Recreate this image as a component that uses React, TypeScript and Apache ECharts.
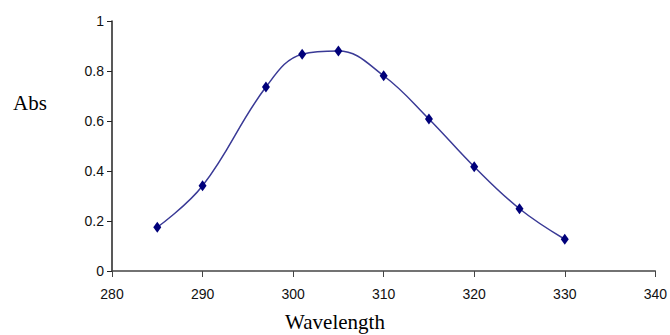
import React, { useEffect, useRef } from "react";
import * as echarts from "echarts";

const wavelengths = [285, 290, 297, 301, 305, 310, 315, 320, 325, 330];
const absorbance = [0.175, 0.341, 0.736, 0.867, 0.88, 0.781, 0.608, 0.417, 0.249, 0.127];
const xTitle = "Wavelength";
const yTitle = "Abs";

export default function App() {
  const ref = useRef<HTMLDivElement>(null);
  useEffect(() => {
    if (!ref.current) return;
    const chart = echarts.init(ref.current, undefined, { renderer: "svg" });
    const data = wavelengths.map((w, i) => [w, absorbance[i]]);
    chart.setOption({
      animation: false,
      backgroundColor: "#ffffff",
      grid: { left: 112, right: 14, top: 21, bottom: 64, containLabel: false },
      xAxis: {
        type: "value",
        min: 280,
        max: 340,
        interval: 10,
        splitLine: { show: false },
        axisLine: { show: true, onZero: false, lineStyle: { color: "#444", width: 1.5 } },
        axisTick: { show: true, length: 6, lineStyle: { color: "#444", width: 1 } },
        axisLabel: { color: "#111", fontSize: 14, fontFamily: "Liberation Sans", margin: 16 },
      },
      yAxis: {
        type: "value",
        min: 0,
        max: 1,
        interval: 0.2,
        splitLine: { show: false },
        axisLine: { show: true, lineStyle: { color: "#222", width: 1.5 } },
        axisTick: { show: true, length: 5, lineStyle: { color: "#222", width: 1 } },
        axisLabel: {
          color: "#111",
          fontSize: 14,
          fontFamily: "Liberation Sans",
          margin: 8,
          formatter: (v: number) => String(Math.round(v * 10) / 10),
        },
      },
      series: [
        {
          type: "line",
          data,
          smooth: 0.4,
          symbol: "diamond",
          symbolSize: [8, 11],
          itemStyle: { color: "#00007a" },
          lineStyle: { color: "#3a3a96", width: 1.5 },
        },
      ],
      graphic: [
        {
          type: "text",
          left: 13,
          top: 92,
          style: { text: yTitle, font: "21px 'Liberation Serif'", fill: "#000" },
        },
        {
          type: "text",
          x: 335,
          y: 322,
          style: {
            text: xTitle,
            font: "21px 'Liberation Serif'",
            fill: "#000",
            align: "center",
            verticalAlign: "middle",
          },
        },
      ],
    });
    return () => chart.dispose();
  }, []);
  return <div ref={ref} style={{ width: 670, height: 335, position: "absolute", left: 0, top: 0 }} />;
}
